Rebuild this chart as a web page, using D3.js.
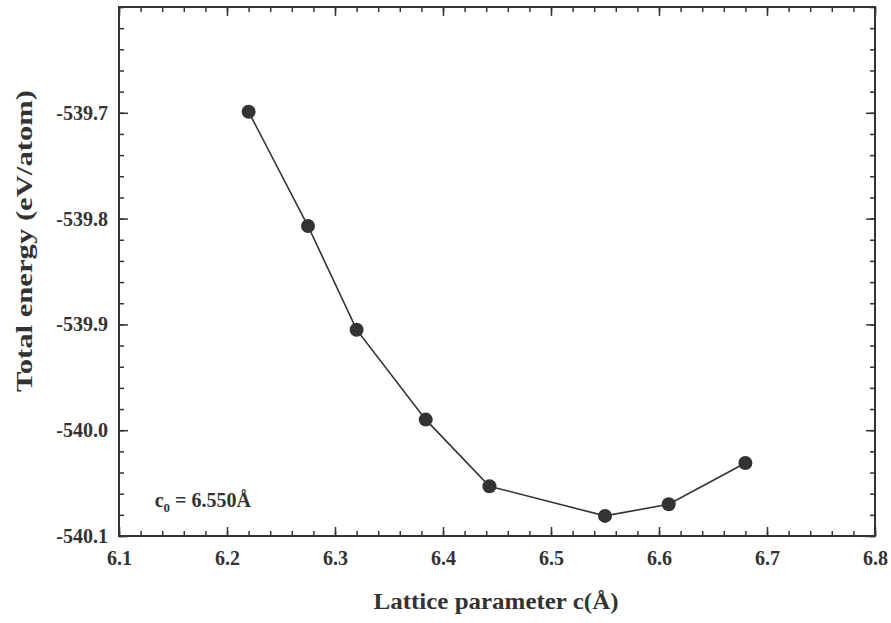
<!DOCTYPE html>
<html lang="en">
<head>
    <meta charset="UTF-8">
    <title>Total energy vs lattice parameter</title>
    <script src="https://d3js.org/d3.v7.min.js"></script>
    <style>
        body { margin: 0; background: #fff; }
        text { font-family: "Liberation Serif", "Times New Roman", serif; font-weight: bold; fill: #333; }
    </style>
</head>
<body>
    <svg class="chart" width="891" height="623"></svg>
    <script>
        // data
        const latticeC = [6.22, 6.275, 6.32, 6.384, 6.443, 6.55, 6.609, 6.68];
        const energy = [-539.699, -539.807, -539.905, -539.990, -540.053, -540.081, -540.070, -540.031];
        const xTicks = [6.1, 6.2, 6.3, 6.4, 6.5, 6.6, 6.7, 6.8];
        const yTicks = [-540.1, -540.0, -539.9, -539.8, -539.7];
        const c0Label = '6.550Å';

        const svg = d3.select('.chart');
        const margin = { top: 7, right: 16, bottom: 87, left: 119 };
        const width = +svg.attr('width');
        const height = +svg.attr('height');
        const innerW = width - margin.left - margin.right;
        const innerH = height - margin.top - margin.bottom;

        const xScale = d3.scaleLinear().domain([6.1, 6.8]).range([0, innerW]);
        const yScale = d3.scaleLinear().domain([-540.1, -539.6]).range([innerH, 0]);

        const xMinor = d3.range(0, 36).map(i => 6.1 + i * 0.02);
        const yMinor = d3.range(0, 26).map(i => -540.1 + i * 0.02);

        const g = svg.append('g').attr('transform', `translate(${margin.left},${margin.top})`);

        // minor ticks on all four sides
        const minorAxes = [
            [d3.axisBottom(xScale).tickValues(xMinor), `translate(0,${innerH})`],
            [d3.axisTop(xScale).tickValues(xMinor), 'translate(0,0)'],
            [d3.axisLeft(yScale).tickValues(yMinor), 'translate(0,0)'],
            [d3.axisRight(yScale).tickValues(yMinor), `translate(${innerW},0)`]
        ];
        minorAxes.forEach(([ax, tr]) => {
            const a = g.append('g').attr('transform', tr)
                .call(ax.tickSize(-5).tickFormat(''));
            a.select('.domain').remove();
            a.selectAll('line').attr('stroke', '#333').attr('stroke-width', 1.5);
        });

        // major ticks
        const xAxis = g.append('g').attr('transform', `translate(0,${innerH})`)
            .call(d3.axisBottom(xScale).tickValues(xTicks).tickSize(-9).tickPadding(15).tickFormat(d3.format('.1f')));
        const xTop = g.append('g')
            .call(d3.axisTop(xScale).tickValues(xTicks).tickSize(-9).tickFormat(''));
        const yAxis = g.append('g')
            .call(d3.axisLeft(yScale).tickValues(yTicks).tickSize(-9).tickPadding(11).tickFormat(d3.format('.1f')));
        const yRight = g.append('g').attr('transform', `translate(${innerW},0)`)
            .call(d3.axisRight(yScale).tickValues(yTicks).tickSize(-9).tickFormat(''));

        [xAxis, xTop, yAxis, yRight].forEach(a => {
            a.select('.domain').remove();
            a.selectAll('line').attr('stroke', '#333').attr('stroke-width', 1.5);
            a.selectAll('text')
                .attr('font-size', 20)
                .attr('font-family', null)
                .attr('fill', null);
        });
        yAxis.selectAll('text').text(d => d3.format('.1f')(d).replace('−', '-'));

        // frame
        g.append('rect')
            .attr('width', innerW)
            .attr('height', innerH)
            .attr('fill', 'none')
            .attr('stroke', '#333')
            .attr('stroke-width', 2);

        // line + markers
        const pts = latticeC.map((c, i) => [c, energy[i]]);
        const line = d3.line().x(d => xScale(d[0])).y(d => yScale(d[1]));
        g.append('path')
            .datum(pts)
            .attr('d', line)
            .attr('fill', 'none')
            .attr('stroke', '#333')
            .attr('stroke-width', 1.6);

        g.selectAll('.dot').data(pts).join('circle')
            .attr('class', 'dot')
            .attr('cx', d => xScale(d[0]))
            .attr('cy', d => yScale(d[1]))
            .attr('r', 7)
            .attr('fill', '#333');

        // c0 annotation
        const ann = g.append('text')
            .attr('font-size', 20)
            .attr('x', xScale(6.133))
            .attr('y', yScale(-540.0725));
        ann.append('tspan').text('c');
        ann.append('tspan').attr('font-size', 13).attr('dy', 5).text('0');
        ann.append('tspan').attr('dy', -5).text(' = ' + c0Label);

        // axis titles
        svg.append('text')
            .attr('font-size', 23)
            .attr('text-anchor', 'middle')
            .attr('textLength', 245)
            .attr('lengthAdjust', 'spacingAndGlyphs')
            .attr('x', margin.left + innerW / 2 - 1)
            .attr('y', 609)
            .text('Lattice parameter c(Å)');

        svg.append('text')
            .attr('font-size', 24)
            .attr('text-anchor', 'middle')
            .attr('textLength', 302)
            .attr('lengthAdjust', 'spacingAndGlyphs')
            .attr('transform', 'translate(32,241) rotate(-90)')
            .text('Total energy (eV/atom)');
    </script>
</body>
</html>
